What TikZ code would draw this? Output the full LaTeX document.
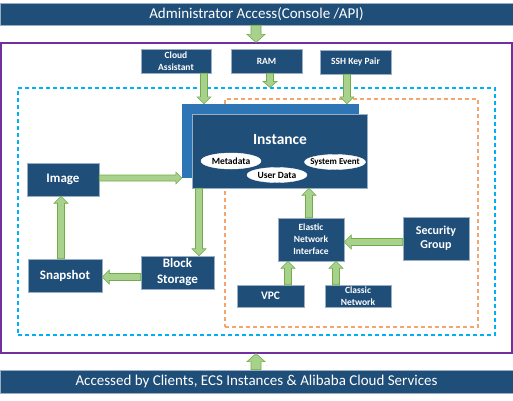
\documentclass[tikz,border=0pt]{standalone}
\usepackage{fontspec}
\setmainfont{Carlito}
\usetikzlibrary{calc,shapes.geometric}
\definecolor{dblue}{HTML}{1F4E79}
\definecolor{mblue}{HTML}{2E75B6}
\definecolor{agreen}{HTML}{A9D18E}
\definecolor{aborder}{HTML}{70AD47}
\definecolor{cyanl}{HTML}{00B0F0}
\definecolor{orangel}{HTML}{F4A46E}
\definecolor{purplel}{HTML}{7030A0}
\tikzset{
  bluebox/.style={fill=dblue, draw=white!55!dblue, line width=0.5pt, text=white,
    align=center, inner sep=1pt, font=\bfseries\fontsize{9.5}{12}\selectfont},
  bigtxt/.style={font=\bfseries\fontsize{13}{16}\selectfont},
  bar/.style={fill=dblue, draw=white!55!dblue, line width=0.5pt, text=white,
    inner sep=0pt, font=\fontsize{15}{17}\selectfont},
  oval/.style={ellipse, fill=white, draw=white, inner sep=0pt},
  ovaltxt/.style={text=black, inner sep=0pt, font=\bfseries\fontsize{9.5}{11}\selectfont},
  frame/.style={inner sep=0pt, fill=none},
  barrow/.style n args={3}{fill=agreen, draw=aborder, line width=0.6pt, line join=miter,
    to path={
      let \p1=(\tikztostart), \p2=(\tikztotarget),
          \n1={veclen(\x2-\x1,\y2-\y1)},
          \n2={(\x2-\x1)/\n1}, \n3={(\y2-\y1)/\n1}, \n4={\n1-#3}
      in ({\x1-(\n3)*#1},{\y1+(\n2)*#1})
      -- ({\x1+(\n2)*\n4-(\n3)*#1},{\y1+(\n3)*\n4+(\n2)*#1})
      -- ({\x1+(\n2)*\n4-(\n3)*#2},{\y1+(\n3)*\n4+(\n2)*#2})
      -- (\x2,\y2)
      -- ({\x1+(\n2)*\n4+(\n3)*#2},{\y1+(\n3)*\n4-(\n2)*#2})
      -- ({\x1+(\n2)*\n4+(\n3)*#1},{\y1+(\n3)*\n4-(\n2)*#1})
      -- ({\x1+(\n3)*#1},{\y1-(\n2)*#1}) -- cycle}},
  smallarrow/.style={barrow={3.5}{7}{7}},
  bigarrow/.style={barrow={5}{9}{8}}
}
\begin{document}
\begin{tikzpicture}[x=1pt,y=-1pt]
\useasboundingbox (0,0) rectangle (513,400);
% bars
\node[bar, minimum width=513, minimum height=22] (top) at (256.5,14) {Administrator Access(Console /API)};
\node[bar, minimum width=513, minimum height=23] (bot) at (256.5,381.5) {Accessed by Clients, ECS Instances \& Alibaba Cloud Services};
% frames
\node[frame, draw=purplel, line width=1.2pt, minimum width=511, minimum height=310] (outer) at (256.5,198) {};
\node[frame, draw=cyanl, line width=1.1pt, dash pattern=on 4pt off 3pt, minimum width=477, minimum height=247] (cyanbox) at (256.5,211.5) {};
\node[frame, draw=orangel, line width=1.1pt, dash pattern=on 4pt off 3pt, minimum width=253, minimum height=228] (orangebox) at (351.5,213) {};
% top boxes
\node[bluebox, minimum width=70, minimum height=24] (ca) at (176,61) {Cloud\\Assistant};
\node[bluebox, minimum width=71, minimum height=24] (ram) at (266.5,61) {RAM};
\node[bluebox, minimum width=71, minimum height=24] (ssh) at (355.5,62) {SSH Key Pair};
% instance
\node[fill=mblue, draw=mblue, minimum width=176, minimum height=73, inner sep=0pt] (instb) at (270,140.5) {};
\node[fill=dblue, draw=white!55!dblue, line width=0.5pt, minimum width=175, minimum height=74, inner sep=0pt] (inst) at (279.5,151) {};
\node[text=white, font=\bfseries\fontsize{15.5}{17}\selectfont] (insttxt) at (280,140) {Instance};
\node[oval, minimum width=60, minimum height=16] (md) at (231,161) {};
\node[ovaltxt] at (md) {Metadata};
\node[oval, minimum width=60, minimum height=15] (ud) at (277,175) {};
\node[ovaltxt] at (ud) {User Data};
\node[oval, minimum width=61, minimum height=15] (se) at (335,162) {};
\node[ovaltxt, font=\bfseries\fontsize{9}{11}\selectfont] at (se) {System Event};
% left boxes
\node[bluebox, bigtxt, minimum width=72, minimum height=33] (img) at (63,179.5) {Image};
\node[bluebox, bigtxt, minimum width=74, minimum height=33] (snap) at (65,275.5) {Snapshot};
\node[bluebox, bigtxt, minimum width=73, minimum height=33] (bs) at (177.5,272.5) {Block\\Storage};
% network boxes
\node[bluebox, minimum width=66, minimum height=43] (eni) at (311,239.5) {Elastic\\Network\\Interface};
\node[bluebox, font=\bfseries\fontsize{12}{14}\selectfont, minimum width=66, minimum height=43] (sg) at (436,238.5) {Security\\Group};
\node[bluebox, font=\bfseries\fontsize{11.5}{13}\selectfont, minimum width=67, minimum height=22] (vpc) at (270.5,296) {VPC};
\node[bluebox, minimum width=66, minimum height=22, font=\bfseries\fontsize{9.5}{11.5}\selectfont] (cn) at (358,296) {Classic\\Network};
% arrows
\draw[bigarrow] (top.south -| 256,0) to (outer.north -| 256,0);
\draw[bigarrow] (bot.north -| 256,0) to (outer.south -| 256,0);
\draw[smallarrow] (ca.south -| 204,0) to (instb.north -| 204,0);
\draw[barrow={3.5}{7}{6}] (ram.south -| 270,0) to (cyanbox.north -| 270,0);
\draw[smallarrow] (ssh.south -| 347,0) to (instb.north -| 347,0);
\draw[barrow={3}{6}{6}] (img.east |- 0,178) to (instb.west |- 0,178);
\draw[smallarrow] (inst.south -| 199,0) to (bs.north -| 199,0);
\draw[smallarrow] (bs.west |- 0,277) to (snap.east |- 0,277);
\draw[smallarrow] (snap.north -| 61,0) to (img.south -| 61,0);
\draw[smallarrow] (eni.north -| 309,0) to (inst.south -| 309,0);
\draw[smallarrow] (sg.west |- 0,242) to (eni.east |- 0,242);
\draw[smallarrow] (vpc.north -| 288,0) to (eni.south -| 288,0);
\draw[smallarrow] (cn.north -| 336,0) to (eni.south -| 336,0);
\end{tikzpicture}
\end{document}
